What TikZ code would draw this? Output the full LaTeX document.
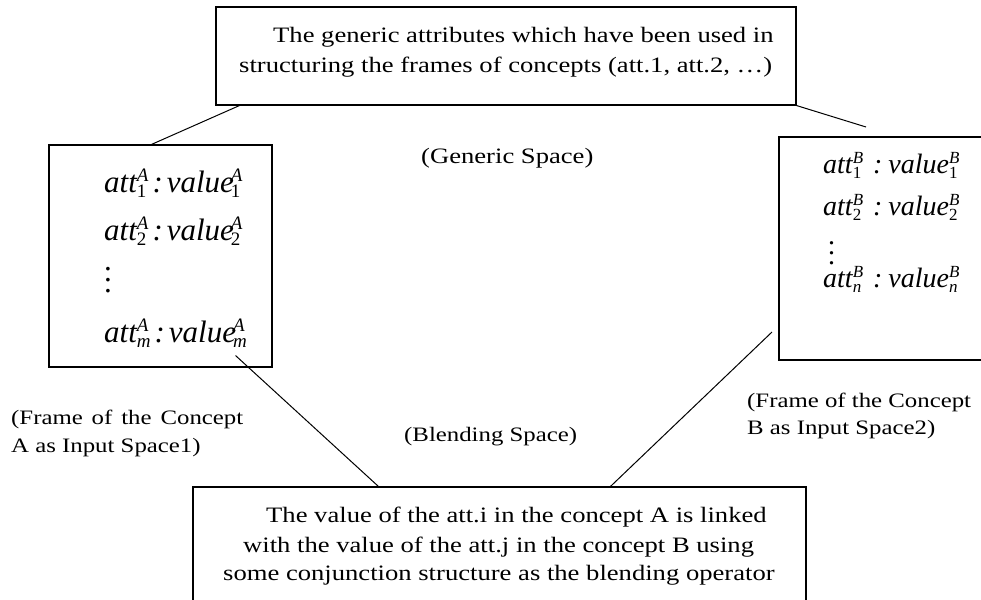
\documentclass[tikz,border=0pt]{standalone}
\usepackage{fontspec}
\setmainfont{Liberation Serif}[FakeStretch=1.21]
\newfontfamily\eqfont{Liberation Serif}
\usetikzlibrary{calc}
% superscript stacked over subscript, left aligned
\newcommand\scrpair[4][0pt]{{\fontsize{#2}{#2}\selectfont\kern#1%
  \ooalign{\raisebox{0.55em}{\itshape #3}\cr\raisebox{-0.3em}{#4}\cr}}}
% a column of three dots, sitting on the baseline
\newcommand\dotcol[1]{.\llap{\raisebox{#1}{.}}\llap{\raisebox{2\dimexpr#1\relax}{.}}}
\tikzset{
  frame/.style={draw, line width=1.1pt, inner sep=0pt},
  link/.style={line width=1pt},
  txt/.style={inner sep=0pt, anchor=base west, font=\fontsize{22}{30}\selectfont},
  lbl/.style={inner sep=0pt, anchor=base west, font=\fontsize{20.5}{28}\selectfont},
  rowA/.style={inner sep=0pt, anchor=base west, font=\eqfont\fontsize{31}{36}\selectfont\itshape},
  rowB/.style={inner sep=0pt, anchor=base west, font=\eqfont\fontsize{28}{32}\selectfont\itshape},
}
\begin{document}
\begin{tikzpicture}[x=1pt,y=-1pt]
\useasboundingbox (0,0) rectangle (981,599);
\clip (0,0) rectangle (981,599);

% frames
\node[frame, minimum width=580pt, minimum height=98pt]  (generic) at (506,56) {};
\node[frame, minimum width=223pt, minimum height=222pt] (frameA)  at (160.5,256) {};
\node[frame, minimum width=240pt, minimum height=223pt] (frameB)  at (899,248.5) {};
\node[frame, minimum width=613pt, minimum height=140pt] (blend)   at (499.5,557) {};

% generic space text
\node[txt] (g1) at (273,43) {The generic attributes which have been used in};
\node[txt] (g2) at (239,73) {structuring the frames of concepts (att.1, att.2, \dots)};

% blending space text
\node[txt] (t1) at (266,522) {The value of the att.i in the concept A is linked};
\node[txt] (t2) at (243,552) {with the value of the att.j in the concept B using};
\node[txt] (t3) at (223,580) {some conjunction structure as the blending operator};

% attributes of concept A
\node[rowA] (a1) at (104,192) {att\scrpair{19}{A}{\upshape 1}\hspace{4pt}:\hspace{4pt}value\scrpair[-3pt]{19}{A}{\upshape 1}};
\node[rowA] (a2) at (104,240) {att\scrpair{19}{A}{\upshape 2}\hspace{4pt}:\hspace{4pt}value\scrpair[-3pt]{19}{A}{\upshape 2}};
\node[rowA, font=\eqfont\fontsize{31}{36}\selectfont] (a3) at (104,292) {\dotcol{11pt}};
\node[rowA] (am) at (104,342) {att\scrpair{19}{A}{m}\hspace{4pt}:\hspace{4pt}value\scrpair[-3pt]{19}{A}{m}};

% attributes of concept B
\node[rowB] (b1) at (823,173) {att\scrpair{17}{B}{\upshape 1}\hspace{10pt}:\hspace{6pt}value\scrpair{17}{B}{\upshape 1}};
\node[rowB] (b2) at (823,215) {att\scrpair{17}{B}{\upshape 2}\hspace{10pt}:\hspace{6pt}value\scrpair{17}{B}{\upshape 2}};
\node[rowB, font=\eqfont\fontsize{28}{32}\selectfont] (b3) at (828,264) {\dotcol{10pt}};
\node[rowB] (bn) at (823,287) {att\scrpair{17}{B}{n}\hspace{10pt}:\hspace{6pt}value\scrpair{17}{B}{n}};

% space labels
\node[txt] (genlbl) at (421,163) {(Generic Space)};
\node[lbl] (blendlbl) at (404,441) {(Blending Space)};
\node[lbl] (inA1) at (11,424) {\makebox[232pt][s]{(Frame of the Concept}};
\node[lbl] (inA2) at (11,452) {A as Input Space1)};
\node[lbl] (inB1) at (747,407) {(Frame of the Concept};
\node[lbl] (inB2) at (747,434) {B as Input Space2)};

% connectors
\coordinate (genR) at (866,127);
\coordinate (fromA) at ($(frameA.south east)+(-37,-12)$);
\coordinate (fromB) at (772,332);
\draw[link] ($(generic.south west)+(24,0)$) -- ($(frameA.north west)+(103,0)$);
\draw[link] (generic.south east) -- (genR);
\draw[link] (fromA) -- ($(blend.north west)+(186,0)$);
\draw[link] (fromB) -- ($(blend.north west)+(418,0)$);
\end{tikzpicture}
\end{document}
